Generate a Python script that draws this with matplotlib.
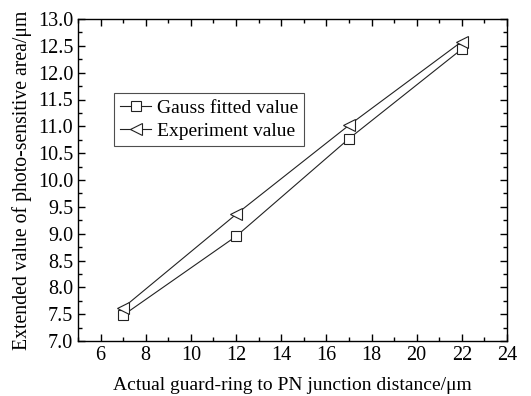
import numpy as np
import matplotlib
matplotlib.use("Agg")
import matplotlib.pyplot as plt
from matplotlib.ticker import MultipleLocator

plt.rcParams['font.family'] = ['Liberation Serif', 'DejaVu Serif']
plt.rcParams['mathtext.fontset'] = 'stix'

# data
distance = [7, 12, 17, 22]
gauss_fit = [7.48, 8.95, 10.77, 12.44]
experiment = [7.62, 9.36, 11.02, 12.58]

fig = plt.figure(figsize=(5.31, 3.96), dpi=100)
ax = fig.add_axes([78 / 531, 1 - 341 / 396, (507 - 78) / 531, (341 - 19) / 396])

ax.plot(distance, gauss_fit, color="#222222", lw=0.8, marker="s", ms=7,
        mfc="white", mec="#222222", mew=0.8, label="Gauss fitted value")
ax.plot(distance, experiment, color="#222222", lw=0.8, marker="<", ms=9,
        mfc="white", mec="#222222", mew=0.8, label="Experiment value")

ax.set_xlim(5, 24)
ax.set_ylim(7.0, 13.0)
ax.xaxis.set_major_locator(MultipleLocator(2))
ax.xaxis.set_minor_locator(MultipleLocator(1))
ax.yaxis.set_major_locator(MultipleLocator(0.5))
ax.yaxis.set_minor_locator(MultipleLocator(0.25))
ax.yaxis.set_major_formatter(matplotlib.ticker.FormatStrFormatter('%.1f'))
ax.tick_params(which="both", direction="in", top=True, right=True, labelsize=14.5, width=1)
ax.tick_params(which="major", length=5)
ax.tick_params(which="minor", length=3)
for s in ax.spines.values():
    s.set_linewidth(1)

ax.set_xlabel("Actual guard-ring to PN junction distance/μm", fontsize=14, labelpad=9)
ax.set_ylabel("Extended value of photo-sensitive area/μm", fontsize=14.2, labelpad=4)

leg = ax.legend(loc="upper left", bbox_to_anchor=(0.085, 0.77), fontsize=14,
                frameon=True, fancybox=False, edgecolor="#222222",
                handlelength=1.6, handletextpad=0.3, borderpad=0.3,
                labelspacing=0.3, borderaxespad=0)
leg.get_frame().set_linewidth(0.8)

fig.savefig("out.png", dpi=100)
